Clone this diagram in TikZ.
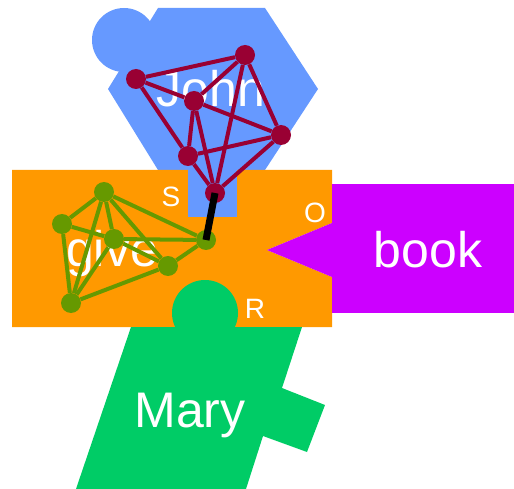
\documentclass[tikz,border=0pt]{standalone}
\usepackage{fontspec}
\setmainfont{Liberation Sans}
\usetikzlibrary{positioning}
\definecolor{johnblue}{HTML}{6699FF}
\definecolor{giveorange}{HTML}{FF9900}
\definecolor{bookpurple}{HTML}{CC00FF}
\definecolor{marygreen}{HTML}{00CC66}
\definecolor{netred}{HTML}{990033}
\definecolor{netgreen}{HTML}{669900}

\begin{document}
\begin{tikzpicture}[x=1pt, y=-1pt,
    word/.style={text=white, font=\fontsize{50}{60}\selectfont, anchor=base, inner sep=0pt},
    role/.style={text=white, font=\fontsize{28}{34}\selectfont, anchor=base, inner sep=0pt},
    dot/.style={circle, fill=#1, inner sep=0pt, minimum size=20pt},
    link/.style={line width=4pt, draw=#1}]
  \useasboundingbox (0,0) rectangle (514,489);

  % John piece
  \fill[johnblue] (124,40) circle (32pt);
  \fill[johnblue] (158,8) -- (265,8) -- (318,89) -- (265,170) -- (158,170) -- (108,89) -- cycle;

  % give piece with its O slot
  \fill[giveorange] (12,170) -- (332,170) -- (332,223) -- (267,250) -- (332,277) -- (332,327) -- (12,327) -- cycle;
  \fill[johnblue] (188,168) rectangle (237,217);

  % book piece
  \fill[bookpurple] (332,184) rectangle (514,313);
  \fill[bookpurple] (332,223) -- (267,250) -- (332,277) -- cycle;

  % Mary piece
  \fill[marygreen] (131,327) -- (302,327) -- (282,388) -- (325,405) -- (307,452) -- (263,436) -- (246,489) -- (76,489) -- cycle;
  \fill[marygreen] (205,313) circle (33pt);

  % words and roles
  \node[word] (john) at (211,107) {John};
  \node[word] (give) at (112,266) {give};
  \node[word] (book) at (428,267) {book};
  \node[word] (mary) at (190,427) {Mary};
  \node[role] (s) at (171,207) {S};
  \node[role] (o) at (315,223) {O};
  \node[role] (r) at (255,318) {R};

  % John network
  \node[dot=netred] (j1) at (136,79) {};
  \node[dot=netred] (j2) at (245,55) {};
  \node[dot=netred] (j3) at (194,101) {};
  \node[dot=netred] (j4) at (281,135) {};
  \node[dot=netred] (j5) at (188,156) {};
  \node[dot=netred] (j6) at (215,193) {};
  \foreach \a/\b in {j1/j2, j1/j3, j1/j5, j2/j3, j2/j4, j2/j6, j3/j4, j3/j5, j3/j6, j4/j5, j4/j6, j5/j6}
    \draw[link=netred] (\a) -- (\b);

  % give network
  \node[dot=netgreen] (g1) at (104,192) {};
  \node[dot=netgreen] (g2) at (62,224) {};
  \node[dot=netgreen] (g3) at (114,239) {};
  \node[dot=netgreen] (g4) at (206,240) {};
  \node[dot=netgreen] (g5) at (168,266) {};
  \node[dot=netgreen] (g6) at (71,303) {};
  \foreach \a/\b in {g1/g2, g1/g3, g1/g4, g1/g5, g1/g6, g2/g3, g2/g6, g3/g4, g3/g5, g3/g6, g4/g5, g5/g6}
    \draw[link=netgreen] (\a) -- (\b);

  % binding between the two
  \draw[line width=7pt] (j6.center) -- (g4.center);
\end{tikzpicture}
\end{document}
